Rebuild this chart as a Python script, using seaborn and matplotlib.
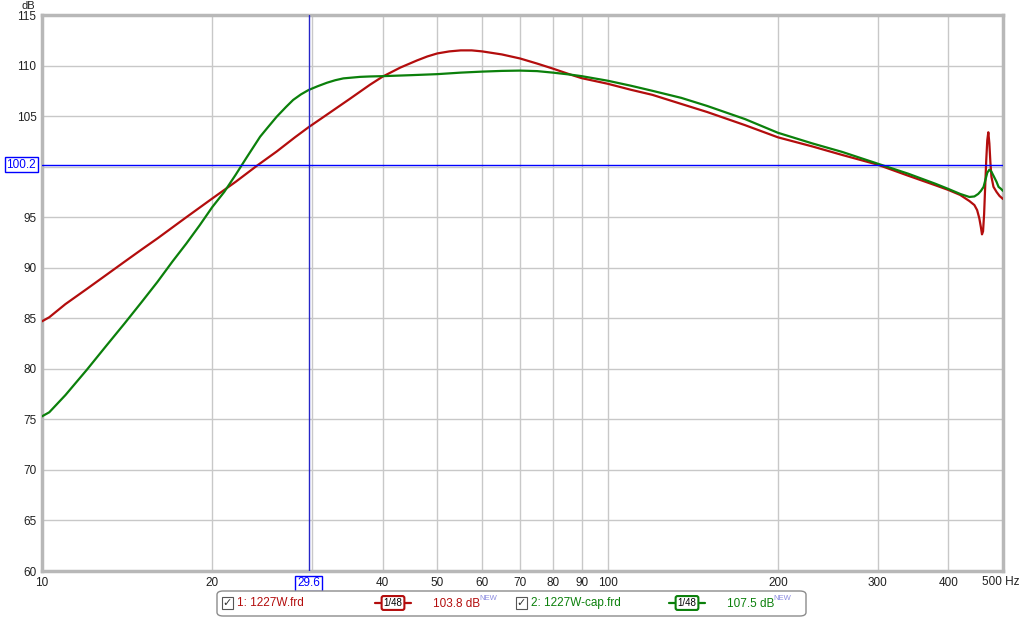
import pandas as pd
import seaborn as sns
import matplotlib.pyplot as plt
from matplotlib.patches import FancyBboxPatch, Rectangle
from matplotlib.lines import Line2D

red_freq = [10, 10.3, 11, 12, 13, 14, 15, 16, 18, 20, 22, 24, 26, 28, 29.6, 32, 35, 38, 40,
            43, 46, 48, 50, 52.5, 55, 57.5, 60, 65, 70, 75, 80, 86, 90, 100, 110, 120, 135,
            150, 175, 200, 230, 260, 300, 340, 380, 400, 420, 436, 445, 450, 454, 457, 459,
            461, 463, 465, 467, 469, 471, 473, 475, 477, 481, 487, 493, 500]
red_db = [84.7, 85.1, 86.4, 87.9, 89.3, 90.6, 91.8, 92.9, 95.0, 96.85, 98.5, 100.1, 101.5,
          102.9, 103.9, 105.2, 106.7, 108.1, 108.9, 109.8, 110.5, 110.9, 111.2, 111.4, 111.5,
          111.5, 111.4, 111.1, 110.7, 110.2, 109.7, 109.1, 108.75, 108.2, 107.6, 107.1, 106.2,
          105.4, 104.1, 102.9, 102.0, 101.15, 100.2, 99.1, 98.15, 97.7, 97.2, 96.6, 96.2,
          95.7, 94.9, 94.0, 93.3, 93.6, 95.3, 98.0, 100.6, 102.6, 103.4, 102.3, 100.4, 99.0,
          98.0, 97.5, 97.1, 96.8]

green_freq = [10, 10.3, 11, 12, 13, 14, 15, 16, 17, 18, 19, 20, 21, 22, 23, 24.3, 25, 26,
              27, 27.8, 28.7, 29.6, 30.7, 31.9, 33, 34.1, 36.5, 38, 40, 45, 50, 55, 60, 65,
              70, 75, 80, 86, 90, 100, 110, 120, 135, 150, 175, 200, 230, 260, 300, 340, 380,
              400, 420, 436, 445, 452, 457, 462, 466, 469, 473, 477, 482, 487, 491, 496, 500]
green_db = [75.3, 75.7, 77.4, 79.9, 82.3, 84.5, 86.6, 88.6, 90.6, 92.4, 94.2, 96.0, 97.5, 99.2,
            100.9, 102.96, 103.8, 104.94, 105.9, 106.6, 107.15, 107.58, 107.95, 108.3, 108.55,
            108.73, 108.88, 108.92, 108.95, 109.05, 109.15, 109.3, 109.4, 109.47, 109.5,
            109.45, 109.3, 109.1, 108.95, 108.5, 108.0, 107.5, 106.8, 106.0, 104.7, 103.35,
            102.3, 101.45, 100.3, 99.3, 98.3, 97.8, 97.3, 97.0, 97.05, 97.3, 97.6, 98.0, 98.8,
            99.4, 99.7, 99.5, 99.0, 98.5, 98.0, 97.8, 97.6]

series_names = ["1: 1227W.frd", "2: 1227W-cap.frd"]
series_colors = ["#b30d0d", "#0b800b"]
cursor_db_values = ["103.8 dB", "107.5 dB"]
x_ticks = [10, 20, 30, 40, 50, 60, 70, 80, 90, 100, 200, 300, 400, 500]
x_labels = ["10", "20", "", "40", "50", "60", "70", "80", "90", "100", "200", "300", "400", ""]
y_ticks = list(range(60, 116, 5))
y_labels = ["" if v == 100 else str(v) for v in y_ticks]
cursor_freq = 29.6
cursor_level = 100.2

df = pd.concat([
    pd.DataFrame({"freq": red_freq, "db": red_db, "series": series_names[0]}),
    pd.DataFrame({"freq": green_freq, "db": green_db, "series": series_names[1]}),
])

sns.set_style("white")
plt.rcParams["font.family"] = ["Liberation Sans", "DejaVu Sans"]

W, H = 1024, 618
fig = plt.figure(figsize=(W / 100, H / 100), dpi=100)
ax = fig.add_axes([42 / W, 1 - 571 / H, (1003 - 42) / W, (571 - 15) / H])

sns.lineplot(data=df, x="freq", y="db", hue="series", palette=series_colors,
             estimator=None, sort=False, lw=1.6, legend=False, ax=ax, zorder=3)

ax.set_xscale("log")
ax.set_xlim(10, 500)
ax.set_ylim(60, 115)
ax.set_xticks(x_ticks)
ax.set_xticklabels(x_labels)
ax.minorticks_off()
ax.set_yticks(y_ticks)
ax.set_yticklabels(y_labels)
ax.set_xlabel("")
ax.set_ylabel("")
ax.grid(True, color="#c8c8c8", lw=1)
ax.tick_params(length=0, labelsize=8.5, pad=4, colors="#202020")
for s in ax.spines.values():
    s.set_color("#b8b8b8")
    s.set_linewidth(2.5)

# last x label carries the unit
fig.text(1020 / W, 1 - 582 / H, "500 Hz", fontsize=8.5, ha="right", va="center", color="#202020")
fig.text(28 / W, 1 - 1 / H, "dB", fontsize=8, va="top", ha="center", color="#202020")

# cursors
ax.axvline(cursor_freq, color="#2525c8", lw=1, zorder=4)
ax.axhline(cursor_level, color="#0000ff", lw=1, zorder=4)
box = dict(boxstyle="square,pad=0.15", fc="white", ec="#0000ff", lw=1)
ax.annotate(f"{cursor_freq}", xy=(cursor_freq, 0), xycoords=("data", "axes fraction"),
            xytext=(0, -9), textcoords="offset points", ha="center", va="center",
            fontsize=8.5, color="#0000ff", bbox=box, annotation_clip=False)
ax.annotate(f"{cursor_level}", xy=(0, cursor_level), xycoords=("axes fraction", "data"),
            xytext=(-15, 0), textcoords="offset points", ha="center", va="center",
            fontsize=8.5, color="#0000ff", bbox=box, annotation_clip=False)

# legend strip below the plot
def fx(px):
    return px / W

def fy(py):
    return 1 - py / H

fig.patches.append(FancyBboxPatch((fx(217), fy(616)), fx(806) - fx(217), fy(591) - fy(616),
                                  boxstyle="round,pad=0,rounding_size=0.006",
                                  transform=fig.transFigure, fc="white", ec="#8c8c8c", lw=1))
starts = [222, 516]
for i in range(2):
    x0 = starts[i]
    c = series_colors[i]
    fig.patches.append(Rectangle((fx(x0), fy(609)), fx(11), fy(597) - fy(609),
                                 transform=fig.transFigure, fc="white", ec="#555555", lw=0.8))
    fig.text(fx(x0 + 5.5), fy(603), "✓", fontsize=8, ha="center", va="center",
             color="#333333", family="DejaVu Sans")
    fig.text(fx(x0 + 15), fy(603), series_names[i], fontsize=8.5, va="center", color=c)
    lx = x0 + 153
    fig.lines.append(Line2D([fx(lx), fx(lx + 36)], [fy(603), fy(603)],
                            transform=fig.transFigure, color=c, lw=1.6))
    fig.text(fx(lx + 18), fy(603), "1/48", fontsize=7, ha="center", va="center",
             color="black", bbox=dict(boxstyle="round,pad=0.2", fc="white", ec=c, lw=1.5))
    fig.text(fx(x0 + 211), fy(604), cursor_db_values[i], fontsize=8.5, va="center", color=c)
    fig.text(fx(x0 + 257), fy(599), "NEW", fontsize=5.5, va="center", color="#8a8ae0")

fig.savefig("out.png", dpi=100)
